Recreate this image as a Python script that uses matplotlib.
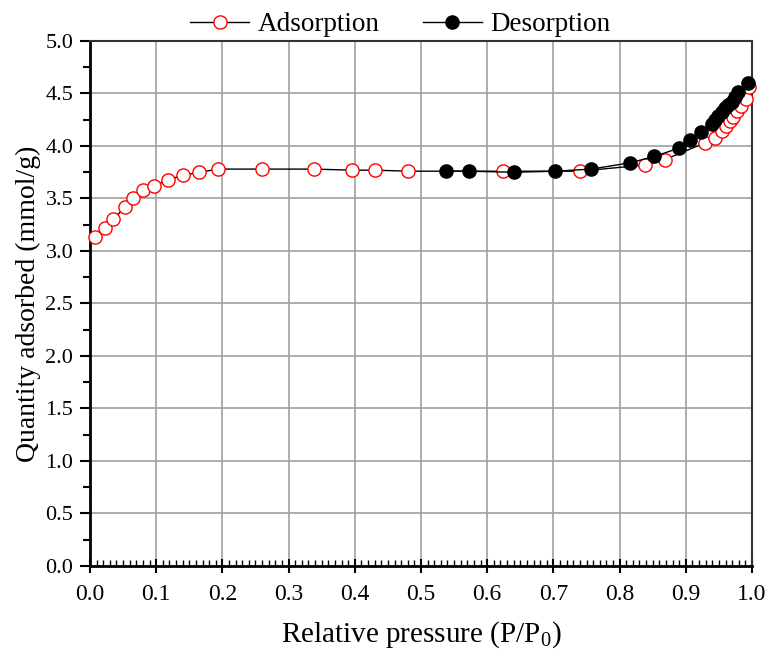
import matplotlib
matplotlib.use("Agg")
import matplotlib.pyplot as plt
from matplotlib.ticker import MultipleLocator

plt.rcParams['font.family'] = ['Liberation Serif', 'DejaVu Serif']
plt.rcParams['mathtext.fontset'] = 'custom'
plt.rcParams['mathtext.rm'] = 'Liberation Serif'

ads_x = [0.008, 0.023, 0.035, 0.053, 0.065, 0.080, 0.097, 0.118, 0.141, 0.165, 0.194,
         0.260, 0.338, 0.396, 0.430, 0.480, 0.624, 0.740, 0.839, 0.868, 0.929, 0.944,
         0.954, 0.960, 0.967, 0.972, 0.978, 0.984, 0.991, 0.996]
ads_y = [3.13, 3.22, 3.30, 3.42, 3.50, 3.58, 3.62, 3.68, 3.72, 3.75, 3.78,
         3.78, 3.78, 3.77, 3.77, 3.76, 3.76, 3.76, 3.82, 3.87, 4.03, 4.08,
         4.14, 4.19, 4.24, 4.28, 4.33, 4.38, 4.45, 4.56]

des_x = [0.994, 0.979, 0.974, 0.969, 0.964, 0.959, 0.954, 0.949, 0.944, 0.939, 0.923,
         0.907, 0.890, 0.852, 0.816, 0.757, 0.703, 0.640, 0.572, 0.538]
des_y = [4.60, 4.51, 4.47, 4.42, 4.39, 4.36, 4.32, 4.29, 4.25, 4.21, 4.13,
         4.06, 3.98, 3.90, 3.84, 3.78, 3.76, 3.75, 3.76, 3.76]

fig = plt.figure(figsize=(7.71, 6.56), dpi=100)
ax = fig.add_axes([0.1167, 0.1372, 0.9754 - 0.1167, 0.9375 - 0.1372])

ax.plot(ads_x, ads_y, color='black', lw=1.0, marker='o', markersize=9.5,
        markerfacecolor='white', markeredgecolor='red', markeredgewidth=1.0,
        label='Adsorption', clip_on=False, zorder=3)
ax.plot(des_x, des_y, color='black', lw=1.0, marker='o', markersize=9.5,
        markerfacecolor='black', markeredgecolor='black',
        label='Desorption', clip_on=False, zorder=4)

ax.set_xlim(0, 1.0)
ax.set_ylim(0, 5.0)
ax.xaxis.set_major_locator(MultipleLocator(0.1))
ax.xaxis.set_minor_locator(MultipleLocator(0.01))
ax.yaxis.set_major_locator(MultipleLocator(0.5))
ax.yaxis.set_minor_locator(MultipleLocator(0.25))
ax.xaxis.set_major_formatter(matplotlib.ticker.FormatStrFormatter('%.1f'))
ax.yaxis.set_major_formatter(matplotlib.ticker.FormatStrFormatter('%.1f'))

ax.grid(True, which='major', color='#a0a0a0', lw=1.2)
ax.set_axisbelow(True)

ax.tick_params(axis='x', which='major', direction='inout', length=10, width=1.5,
               labelsize=17, pad=8, top=False)
ax.tick_params(axis='x', which='minor', direction='in', length=4, width=1.0, top=False)
ax.tick_params(axis='y', which='major', direction='out', length=7, width=1.5,
               labelsize=16, pad=5, right=False)
ax.tick_params(axis='y', which='minor', direction='out', length=5, width=1.5, right=False)

for s in ['left', 'bottom']:
    ax.spines[s].set_linewidth(2.0)
for s in ['top', 'right']:
    ax.spines[s].set_linewidth(1.5)
    ax.spines[s].set_color('#333333')

ax.set_xlabel('Relative pressure (P/P$_0$)', fontsize=21, labelpad=10)
ax.set_ylabel('Quantity adsorbed (mmol/g)', fontsize=20, labelpad=3)

fig.legend(loc='center', bbox_to_anchor=(0.519, 0.962), ncol=2, frameon=False,
           fontsize=19.5, handlelength=2.2, handletextpad=0.3, columnspacing=1.6,
           borderaxespad=0)

fig.savefig('out.png', dpi=100)
